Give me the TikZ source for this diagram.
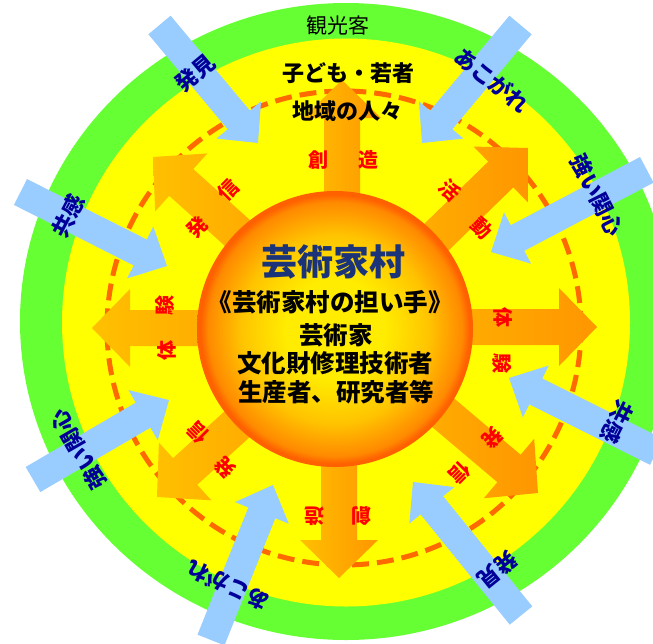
\documentclass[tikz,border=0pt]{standalone}
\usepackage{fontspec}
\setmainfont{Noto Sans CJK JP}
\usetikzlibrary{calc}
\definecolor{ringgreen}{HTML}{66FF33}
\definecolor{ringyellow}{HTML}{FFFF00}
\definecolor{dashorange}{HTML}{FF6A00}
\definecolor{skyblue}{HTML}{99CCFF}
\definecolor{navytext}{HTML}{000099}
\definecolor{titlenavy}{HTML}{1B3378}
\definecolor{labelred}{HTML}{FF0000}
\definecolor{arrowlight}{HTML}{FFC000}
\definecolor{arrowdark}{HTML}{FF9600}
\definecolor{sunA}{HTML}{FFEC00}
\definecolor{sunB}{HTML}{FFC400}
\definecolor{sunC}{HTML}{FF8A00}
\definecolor{sunD}{HTML}{FF6000}
\pgfdeclareradialshading{sunshade}{\pgfpoint{0bp}{0bp}}{color(0bp)=(sunA); color(9bp)=(sunA); color(17bp)=(sunB); color(23bp)=(sunC); color(24.4bp)=(sunD); color(25bp)=(sunD); color(50bp)=(sunD)}
% block arrow: #1 style, #2 tail, #3 tip, #4 half shaft, #5 half head, #6 head length
\newcommand{\blockarrow}[6]{%
  \coordinate (bah) at ($(#3)!#6!(#2)$);
  \path[#1] ($(#2)!#4!90:(#3)$) -- ($(bah)!#4!90:(#3)$) -- ($(bah)!#5!90:(#3)$) -- (#3)
    -- ($(bah)!#5!-90:(#3)$) -- ($(bah)!#4!-90:(#3)$) -- ($(#2)!#4!-90:(#3)$) -- cycle;
}
\begin{document}
\begin{tikzpicture}[x=1pt,y=-1pt,
  olabel/.style={text=labelred, font=\bfseries\fontsize{20}{20}\selectfont, inner sep=0pt},
  blabel/.style={text=navytext, font=\bfseries\fontsize{22}{22}\selectfont, inner sep=0pt},
  orangearrow/.style={left color=arrowlight, right color=arrowdark},
  bluearrow/.style={fill=skyblue},
  centertext/.style={text=black, font=\bfseries\fontsize{24.5}{24.5}\selectfont, inner sep=0pt},
  toptext/.style={text=black, font=\bfseries\fontsize{22}{22}\selectfont, inner sep=0pt}]
\useasboundingbox (0,0) rectangle (653,643);
\fill[white] (0,0) rectangle (653,643);
% rings
\coordinate (gc) at (346,321.5);
\coordinate (yc) at (346,322.5);
\coordinate (dc) at (344,328);
\fill[ringgreen] (gc) ellipse [x radius=326pt, y radius=318.5pt];
\fill[ringyellow] (yc) circle [radius=284pt];
\draw[dashorange, line width=5pt, dash pattern=on 17pt off 8pt] (dc) circle [radius=237pt];
% orange arrows
\coordinate (oc) at (343,328);
\coordinate (oUt) at (342,328);   \coordinate (oU) at (342,80);
\coordinate (oDt) at (339,328);   \coordinate (oD) at (339,578);
\coordinate (oRt) at (343,327);   \coordinate (oR) at (597,327);
\coordinate (oLt) at (343,328);   \coordinate (oL) at (92,328);
\coordinate (oUL) at (153,157);
\coordinate (oUR) at (528,148);
\coordinate (oLR) at (538,493);
\coordinate (oLL) at (157,497);
\blockarrow{orangearrow}{oUt}{oU}{18pt}{39pt}{38pt}
\blockarrow{orangearrow}{oDt}{oD}{18pt}{39pt}{38pt}
\blockarrow{orangearrow}{oRt}{oR}{18pt}{39pt}{38pt}
\blockarrow{orangearrow}{oLt}{oL}{18pt}{39pt}{38pt}
\blockarrow{orangearrow}{oc}{oUL}{18pt}{39pt}{38pt}
\blockarrow{orangearrow}{oc}{oUR}{18pt}{39pt}{38pt}
\blockarrow{orangearrow}{oc}{oLR}{18pt}{39pt}{38pt}
\blockarrow{orangearrow}{oc}{oLL}{18pt}{39pt}{38pt}
% sun
\coordinate (sun) at (335,329);
\shade[shading=sunshade] (sun) circle [radius=138pt];
% blue arrows
\coordinate (b1t) at (159.5,25);  \coordinate (b1) at (258,143);
\coordinate (b2t) at (520.5,25);  \coordinate (b2) at (422,143);
\coordinate (b3t) at (646.8,169.8); \coordinate (b3) at (491,252);
\coordinate (b4t) at (656.5,451.8); \coordinate (b4) at (509,378);
\coordinate (b5t) at (521,615.5); \coordinate (b5) at (413,482);
\coordinate (b6t) at (211,640);   \coordinate (b6) at (273,485);
\coordinate (b7t) at (33,479.5);  \coordinate (b7) at (169,400);
\coordinate (b8t) at (20.5,192);  \coordinate (b8) at (167,266);
\foreach \i in {1,...,8}{\blockarrow{bluearrow}{b\i t}{b\i}{14.5pt}{29pt}{30pt}}
% blue labels
\node[blabel, rotate=40]   (lb1) at (195,73)  {発見};
\node[blabel, rotate=-39]  (lb2) at (492,80)  {あこがれ};
\node[blabel, rotate=-63]  (lb3) at (597,195) {強い関心};
\node[blabel, rotate=-117] (lb4) at (617,422) {共感};
\node[blabel, rotate=-141] (lb5) at (498,570) {発見};
\node[blabel, rotate=155]  (lb6) at (228,586) {あこがれ};
\node[blabel, rotate=120]  (lb7) at (78,450)  {強い関心};
\node[blabel, rotate=62]   (lb8) at (68,216)  {共感};
% orange arrow labels
\node[olabel] (lo1a) at (318,160) {創};
\node[olabel] (lo1b) at (368,160) {造};
\node[olabel, rotate=180] (lo2a) at (361,516) {創};
\node[olabel, rotate=180] (lo2b) at (314,516) {造};
\node[olabel, rotate=-90] (lo3a) at (503,317) {体};
\node[olabel, rotate=-90] (lo3b) at (502,363) {験};
\node[olabel, rotate=90] (lo4a) at (167,350) {体};
\node[olabel, rotate=90] (lo4b) at (165,305) {験};
\node[olabel, rotate=45] (lo5a) at (197,227) {発};
\node[olabel, rotate=45] (lo5b) at (228,190) {信};
\node[olabel, rotate=-45] (lo6a) at (450,190) {活};
\node[olabel, rotate=-45] (lo6b) at (482,228) {動};
\node[olabel, rotate=-135] (lo7a) at (493,438) {発};
\node[olabel, rotate=-135] (lo7b) at (460,473) {信};
\node[olabel, rotate=135] (lo8a) at (225,468) {発};
\node[olabel, rotate=135] (lo8b) at (198,433) {信};
% ring texts
\node[text=black, font=\fontsize{21}{21}\selectfont, inner sep=0pt] (kankou) at (338,26) {観光客};
\node[toptext] (kodomo) at (348,73) {子ども・若者};
\node[toptext] (chiiki) at (347,111) {地域の人々};
% centre texts
\node[text=titlenavy, font=\bfseries\fontsize{36}{36}\selectfont, inner sep=0pt] (title) at (333,262) {芸術家村};
\node[centertext] (ct1) at (330,302) {《芸術家村の担い手》};
\node[centertext] (ct2) at (336,335) {芸術家};
\node[centertext] (ct3) at (335,363) {文化財修理技術者};
\node[centertext] (ct4) at (336,392) {生産者、研究者等};
\end{tikzpicture}
\end{document}
